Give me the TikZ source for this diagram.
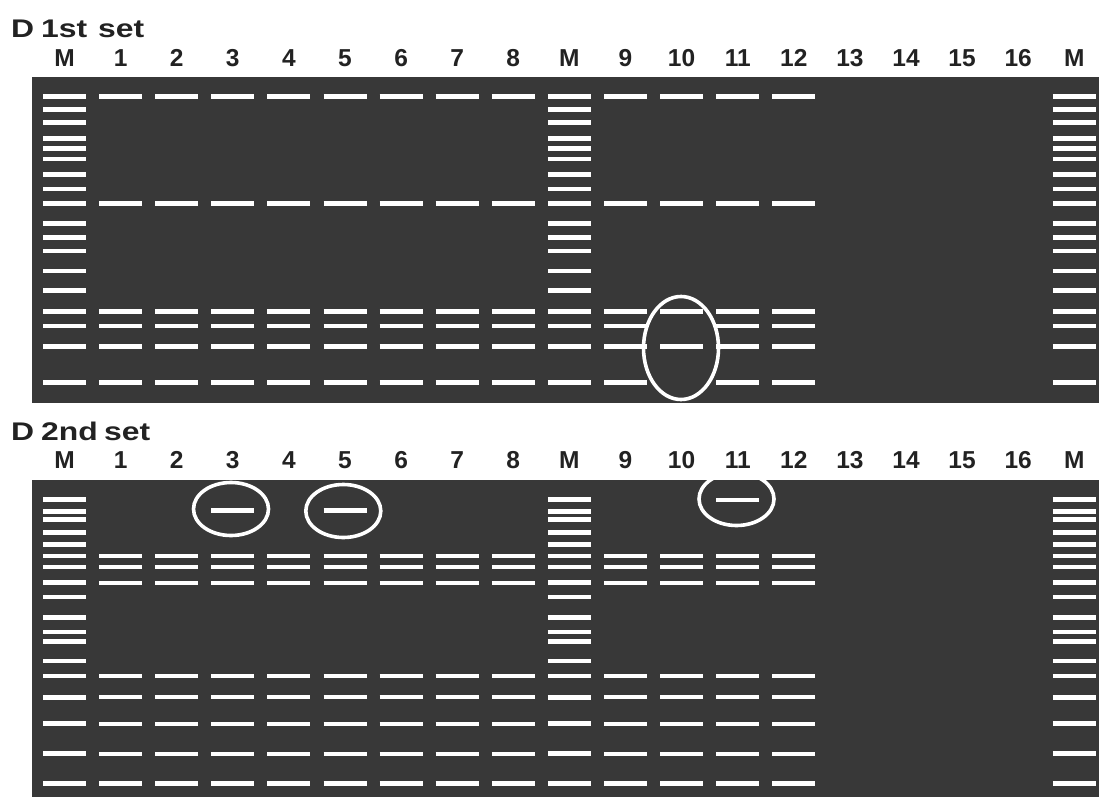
\documentclass[tikz,border=0pt]{standalone}
\usepackage{fontspec}
\setmainfont{Liberation Sans}
\newfontfamily\titlefont[FakeStretch=1.25]{Liberation Sans}
\definecolor{gel}{HTML}{383838}
\definecolor{ink}{HTML}{222222}
\begin{document}
\begin{tikzpicture}[x=1pt,y=-1pt,
  gelbox/.style={fill=gel,draw=none},
  band/.style={draw=white,line width=4.6pt},
  ring/.style={draw=white,line width=3.6pt},
  lanelabel/.style={anchor=base,inner sep=0pt,text=ink,font=\fontsize{24.5}{24.5}\selectfont\bfseries},
  titlelabel/.style={anchor=base west,inner sep=0pt,text=ink,font=\titlefont\fontsize{25.5}{25.5}\selectfont\bfseries}]
\useasboundingbox (0,0) rectangle (1099,797);
\fill[white] (0,0) rectangle (1099,797);
% gels
\fill[gelbox] (32,77) rectangle (1099,403);
\fill[gelbox] (32,480) rectangle (1099,797);
% titles
\node[titlelabel] (t1a) at (11,38) {D};
\node[titlelabel] (t1b) at (41,38) {1st};
\node[titlelabel] (t1c) at (98,38) {set};
\node[titlelabel] (t2a) at (11,440) {D};
\node[titlelabel] (t2b) at (41,440) {2nd};
\node[titlelabel] (t2c) at (104,440) {set};
% lane labels
\foreach \lab [count=\i from 0] in {M,1,2,3,4,5,6,7,8,M,9,10,11,12,13,14,15,16,M}{
  \pgfmathsetmacro{\cx}{64.5+56.1*\i}
  \node[lanelabel] (la\i) at (\cx,67) {\lab};
  \node[lanelabel] (lb\i) at (\cx,468) {\lab};
}
% marker lanes
\foreach \i in {0,9,18}{
  \pgfmathsetmacro{\cx}{64.5+56.1*\i}
  \foreach \y in {96.5,109.3,122.5,138.3,148.3,159,174.5,189,203.3,223.3,237.7,251,270.8,290.7,311.2,325.8,346.7,382.7}{
    \draw[band] (\cx-21.5,\y) -- (\cx+21.5,\y);
  }
  \foreach \y in {499.5,511.7,519.7,532.7,544.3,556,567,582.7,597,617.5,632,641.7,661,676,697.2,723.7,753.7,783.3}{
    \draw[band] (\cx-21.5,\y) -- (\cx+21.5,\y);
  }
}
% sample lanes, top gel
\foreach \i in {1,...,8,10,12,13}{
  \pgfmathsetmacro{\cx}{64.5+56.1*\i}
  \foreach \y in {96.5,203.3,311.5,326,346.7,382.7}{
    \draw[band] (\cx-21.5,\y) -- (\cx+21.5,\y);
  }
}
\pgfmathsetmacro{\cx}{64.5+56.1*11}
\foreach \y in {96.5,203.3,311.5,346.7}{
  \draw[band] (\cx-21.5,\y) -- (\cx+21.5,\y);
}
% sample lanes, bottom gel
\foreach \i in {1,...,8,10,11,12,13}{
  \pgfmathsetmacro{\cx}{64.5+56.1*\i}
  \foreach \y in {556,567,583,676,697,724,754,783.3}{
    \draw[band] (\cx-21.5,\y) -- (\cx+21.5,\y);
  }
}
\pgfmathsetmacro{\cx}{64.5+56.1*3}
\draw[band] (\cx-21.5,510.5) -- (\cx+21.5,510.5);
\pgfmathsetmacro{\cx}{64.5+56.1*5}
\draw[band] (\cx-21.5,510.5) -- (\cx+21.5,510.5);
\pgfmathsetmacro{\cx}{64.5+56.1*12}
\draw[band] (\cx-21.5,500) -- (\cx+21.5,500);
% circled bands
\draw[ring] (681,348) ellipse [x radius=37.5, y radius=51.5];
\draw[ring] (231,509) ellipse [x radius=37.5, y radius=26.5];
\draw[ring] (343.3,511) ellipse [x radius=37.5, y radius=26.5];
\begin{scope}
\clip (32,480) rectangle (1099,797);
\draw[ring] (736.5,499) ellipse [x radius=37.5, y radius=26.5];
\end{scope}
\end{tikzpicture}
\end{document}
